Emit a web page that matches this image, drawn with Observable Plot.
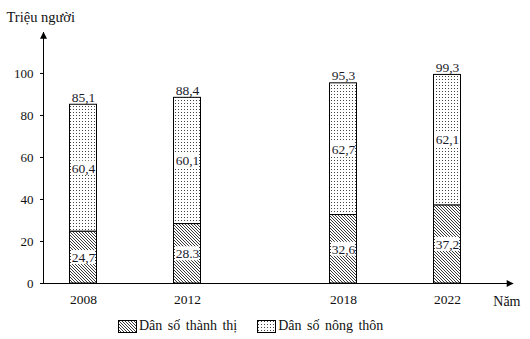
<!DOCTYPE html>
<html><head><meta charset="utf-8">
<script src="https://cdn.jsdelivr.net/npm/d3@7"></script>
<script src="https://cdn.jsdelivr.net/npm/@observablehq/plot@0.6"></script>
<style>
body{margin:0;background:#fff;font-family:"Liberation Serif","Times New Roman","DejaVu Serif",serif;}
#wrap{position:relative;width:530px;height:339px;overflow:hidden;}
#legend{position:absolute;left:118px;top:318px;display:flex;align-items:center;font-size:14px;color:#111;word-spacing:2px;white-space:nowrap}
#legend .item{display:flex;align-items:center;margin-right:20px}
#legend svg{margin-right:2px}
svg text{font-family:"Liberation Serif","Times New Roman","DejaVu Serif",serif !important;}
</style></head><body><div id="wrap"><div id="chart"></div><div id="legend"></div></div>
<script>
const years = [2008, 2012, 2018, 2022];
const urban = [24.7, 28.3, 32.6, 37.2];
const rural = [60.4, 60.1, 62.7, 62.1];
const totals = [85.1, 88.4, 95.3, 99.3];
const urbanLabels = ["24,7", "28.3", "32,6", "37,2"];
const ruralLabels = ["60,4", "60,1", "62,7", "62,1"];
const totalLabels = ["85,1", "88,4", "95,3", "99,3"];
const yTicks = [0, 20, 40, 60, 80, 100];
const seriesNames = ["Dân số thành thị", "Dân số nông thôn"];
const yTitle = "Triệu người";
const xTitle = "Năm";

const rows = years.map((year, i) => ({
  year, urban: urban[i], rural: rural[i], total: totals[i],
  uLab: urbanLabels[i], rLab: ruralLabels[i], tLab: totalLabels[i]
}));

const font = '"Liberation Serif", "Times New Roman", serif';
const plot = Plot.plot({
  width: 530, height: 339,
  marginTop: 32, marginLeft: 43, marginRight: 17, marginBottom: 56,
  style: {fontFamily: font, fontSize: "13px", color: "#111", background: "white", overflow: "visible"},
  x: {type: "linear", domain: [years[0], years[years.length - 1]], range: [83, 447]},
  y: {domain: [0, 119.5]},
  marks: [
    Plot.rectY(rows, {x1: "year", x2: "year", y1: 0, y2: "urban", fill: "url(#hatch)", stroke: "#000", strokeWidth: 1, insetLeft: -13.5, insetRight: -13.5}),
    Plot.rectY(rows, {x1: "year", x2: "year", y1: "urban", y2: d => d.urban + d.rural, fill: "url(#dots)", stroke: "#000", strokeWidth: 1, insetLeft: -13.5, insetRight: -13.5}),
    Plot.rectY(rows, {x1: "year", x2: "year", y1: d => d.urban / 2, y2: d => d.urban / 2, fill: "white", insetLeft: -12, insetRight: -12, insetTop: -7, insetBottom: -7}),
    Plot.rectY(rows, {x1: "year", x2: "year", y1: d => d.urban + d.rural / 2, y2: d => d.urban + d.rural / 2, fill: "white", insetLeft: -12, insetRight: -12, insetTop: -7, insetBottom: -7}),
    Plot.text(rows, {x: "year", y: d => d.urban / 2, text: "uLab", fontSize: 13.5, fill: "#1a1a2a"}),
    Plot.text(rows, {x: "year", y: d => d.urban + d.rural / 2, text: "rLab", fontSize: 13.5, fill: "#1a1a2a"}),
    Plot.text(rows, {x: "year", y: d => d.urban + d.rural, text: "tLab", fontSize: 13.5, lineAnchor: "bottom", dy: -3, fill: "#1a1a2a"}),
    Plot.ruleY([0], {stroke: "#000", strokeWidth: 1}),
    Plot.frame({anchor: "left", stroke: "#000", strokeWidth: 1}),
    Plot.axisY({ticks: yTicks, tickSize: 3, tickPadding: 7, label: null, fontSize: 13, stroke: "#000", strokeOpacity: 1}),
    Plot.axisX({ticks: years, tickSize: 0, tickPadding: 11, tickFormat: d => String(d), label: null, fontSize: 13.5}),
    Plot.text([yTitle], {frameAnchor: "top-left", text: d => d, textAnchor: "start", lineAnchor: "middle", dx: -37, dy: -15, fontSize: 14.5}),
    Plot.text([xTitle], {frameAnchor: "bottom-right", text: d => d, textAnchor: "end", lineAnchor: "middle", dx: 7, dy: 18, fontSize: 14})
  ]
});

const svg = d3.select(plot);
const defs = svg.insert("defs", ":first-child");
const hatch = defs.append("pattern").attr("id", "hatch").attr("patternUnits", "userSpaceOnUse").attr("width", 3).attr("height", 3);
hatch.append("rect").attr("width", 3).attr("height", 3).attr("fill", "#fff");
hatch.append("path").attr("d", "M-1,-1 L4,4 M-1,2 L1,4 M2,-1 L4,1").attr("stroke", "#222").attr("stroke-width", 0.9);
const dots = defs.append("pattern").attr("id", "dots").attr("patternUnits", "userSpaceOnUse").attr("width", 3).attr("height", 3);
dots.append("rect").attr("width", 3).attr("height", 3).attr("fill", "#fff");
dots.append("rect").attr("x", 1).attr("y", 1).attr("width", 1).attr("height", 1).attr("fill", "#444");
const marker = defs.append("marker").attr("id", "arrowhead").attr("viewBox", "0 0 10 10")
  .attr("refX", 9).attr("refY", 5).attr("markerWidth", 8).attr("markerHeight", 7)
  .attr("markerUnits", "userSpaceOnUse").attr("orient", "auto-start-reverse");
marker.append("path").attr("d", "M0,0 L10,5 L0,10 z").attr("fill", "#000");

svg.selectAll('[aria-label="rule"] line').attr("marker-end", "url(#arrowhead)");
svg.selectAll('[aria-label="frame"]').each(function() {
  const el = this.tagName === "line" ? this : this.querySelector("line");
  if (!el) return;
  const y1 = +el.getAttribute("y1"), y2 = +el.getAttribute("y2");
  el.setAttribute(y2 < y1 ? "marker-end" : "marker-start", "url(#arrowhead)");
});

document.getElementById("chart").appendChild(plot);

const legend = d3.select("#legend");
["hatch", "dots"].forEach((p, i) => {
  const item = legend.append("div").attr("class", "item");
  const s = item.append("svg").attr("width", 19).attr("height", 13);
  s.append("rect").attr("x", 0.5).attr("y", 0.5).attr("width", 18).attr("height", 12).attr("fill", `url(#${p})`).attr("stroke", "#000");
  item.append("span").text(seriesNames[i]);
});
</script></body></html>
